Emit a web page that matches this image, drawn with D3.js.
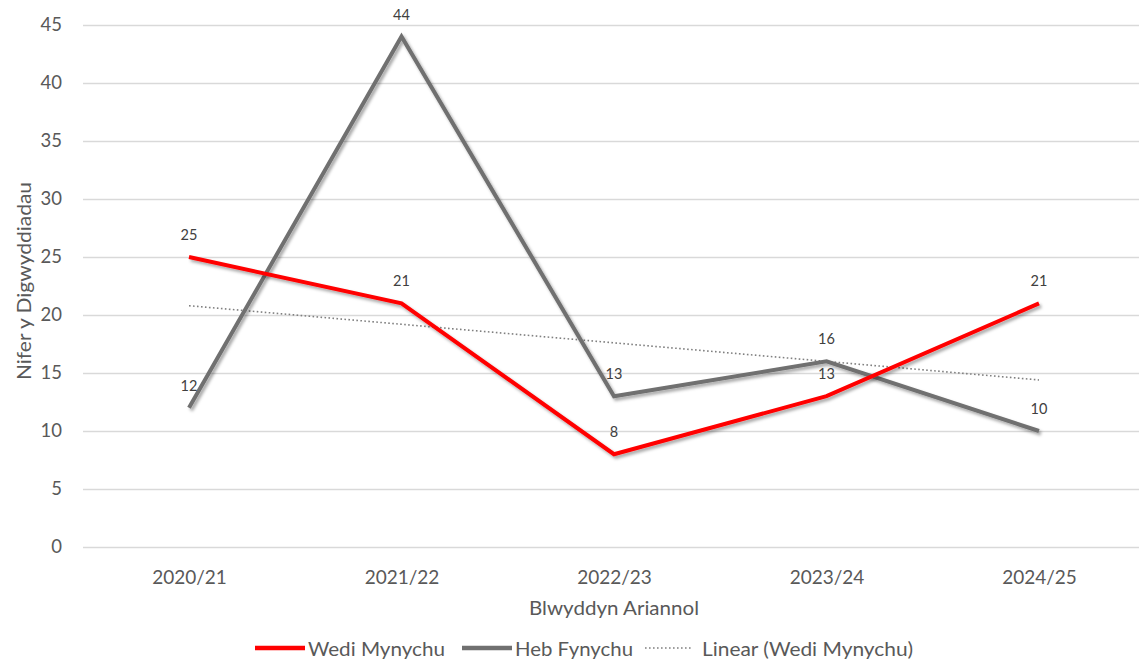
<!DOCTYPE html>
<html><head><meta charset="utf-8">
<script src="https://cdn.jsdelivr.net/npm/d3@7"></script>
<style>
body{margin:0;background:#fff;}
text{font-family:Lato,"Open Sans",sans-serif;}
</style></head><body>
<svg id="c" width="1139" height="661"></svg>
<script>
const categories = ["2020/21","2021/22","2022/23","2023/24","2024/25"];
const wediMynychu = [25,21,8,13,21];
const hebFynychu = [12,44,13,16,10];
const yTicks = [0,5,10,15,20,25,30,35,40,45];
const seriesNames = ["Wedi Mynychu","Heb Fynychu","Linear (Wedi Mynychu)"];

const svg = d3.select("#c");
const W = 1139, H = 661;
const x = d3.scalePoint().domain(categories).range([189,1039]);
const y = d3.scaleLinear().domain([0,45]).range([547,25]);

const defs = svg.append("defs");
const f = defs.append("filter").attr("id","sh").attr("x","-10%").attr("y","-10%").attr("width","120%").attr("height","120%");
f.append("feDropShadow").attr("dx",2).attr("dy",2.5).attr("stdDeviation",1.5).attr("flood-color","#000").attr("flood-opacity",0.35);

// gridlines
const yAxis = d3.axisLeft(y).tickValues(yTicks).tickSize(-(W-83)).tickPadding(18);
const gy = svg.append("g").attr("transform","translate(83,0)").call(yAxis);
gy.select(".domain").remove();
gy.selectAll(".tick line").attr("stroke","#d9d9d9").attr("stroke-width",1.3);
gy.selectAll(".tick text").attr("fill","#595959").attr("font-size",18.5).attr("x",-21);

const xAxis = d3.axisBottom(x).tickSize(0).tickPadding(14);
const gx = svg.append("g").attr("transform","translate(0,547)").call(xAxis);
gx.select(".domain").remove();
gx.selectAll(".tick text").attr("fill","#595959").attr("font-size",19).attr("y",37).attr("dy",0);

// axis titles
svg.append("text").attr("transform","translate(31,281) rotate(-90)").attr("text-anchor","middle")
  .attr("fill","#595959").attr("font-size",18.5).attr("textLength",198).attr("lengthAdjust","spacingAndGlyphs")
  .text("Nifer y Digwyddiadau");
svg.append("text").attr("x",614).attr("y",615).attr("text-anchor","middle")
  .attr("fill","#595959").attr("font-size",18.5).attr("textLength",170).attr("lengthAdjust","spacingAndGlyphs")
  .text("Blwyddyn Ariannol");

// trend line (least squares of Wedi Mynychu)
const n = wediMynychu.length;
const xs = d3.range(1,n+1);
const mx = d3.mean(xs), my = d3.mean(wediMynychu);
const slope = d3.sum(xs.map((xi,i)=>(xi-mx)*(wediMynychu[i]-my)))/d3.sum(xs.map(xi=>(xi-mx)**2));
const icpt = my - slope*mx;
const trend = xs.map(xi=>icpt+slope*xi);

const line = d3.line().x((d,i)=>x(categories[i])).y(d=>y(d));

svg.append("path").datum(trend).attr("d",line).attr("fill","none")
  .attr("stroke","#808080").attr("stroke-width",1.6).attr("stroke-dasharray","1.6 2.4");

svg.append("path").datum(hebFynychu).attr("d",line).attr("fill","none")
  .attr("stroke","#707070").attr("stroke-width",4).attr("stroke-linejoin","miter").attr("filter","url(#sh)");
svg.append("path").datum(wediMynychu).attr("d",line).attr("fill","none")
  .attr("stroke","#ff0000").attr("stroke-width",4).attr("stroke-linejoin","miter").attr("filter","url(#sh)");

// data labels
function labels(data){
  svg.append("g").selectAll("text").data(data).join("text")
    .attr("x",(d,i)=>x(categories[i])).attr("y",d=>y(d)-17)
    .attr("text-anchor","middle").attr("fill","#404040").attr("font-size",14.5).text(d=>d);
}
labels(hebFynychu);
labels(wediMynychu);

// legend
const lg = svg.append("g");
const items = [
  {name:seriesNames[0], x:255, color:"#ff0000", w:4.5, dash:null, len:50, gap:3, tl:137},
  {name:seriesNames[1], x:462, color:"#707070", w:4.5, dash:null, len:50, gap:3, tl:118},
  {name:seriesNames[2], x:645, color:"#808080", w:1.6, dash:"1.6 2.4", len:48, gap:9, tl:211}
];
items.forEach(it=>{
  lg.append("line").attr("x1",it.x).attr("x2",it.x+it.len).attr("y1",648).attr("y2",648)
    .attr("stroke",it.color).attr("stroke-width",it.w).attr("stroke-dasharray",it.dash);
  lg.append("text").attr("x",it.x+it.len+it.gap).attr("y",656).attr("fill","#595959")
    .attr("font-size",18.5).attr("textLength",it.tl).attr("lengthAdjust","spacingAndGlyphs").text(it.name);
});
</script></body></html>
